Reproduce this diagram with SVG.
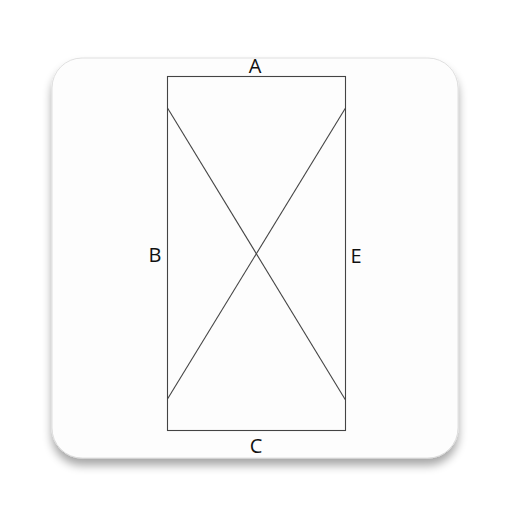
<svg xmlns="http://www.w3.org/2000/svg" width="512" height="512" viewBox="0 0 512 512">
<defs>
<filter id="sh" x="-20%" y="-20%" width="140%" height="150%">
<feGaussianBlur in="SourceAlpha" stdDeviation="5"/>
<feOffset dy="7" result="b"/>
<feComponentTransfer><feFuncA type="linear" slope="0.35"/></feComponentTransfer>
<feMerge><feMergeNode/><feMergeNode in="SourceGraphic"/></feMerge>
</filter>
<style>
.ln{fill:none;stroke:#444;stroke-width:1.1}
.lb{font-family:"Open Sans",sans-serif;font-size:20px;fill:#111;text-anchor:middle}
</style>
</defs>
<rect x="0" y="0" width="512" height="512" fill="#fff"/>
<g id="card">
<rect x="52" y="58" width="406" height="400" rx="30" fill="#fdfdfd" stroke="#d8d8d8" stroke-width="0.8" filter="url(#sh)"/>
</g>
<g id="frame">
<rect class="ln" x="167.5" y="76.5" width="178" height="354"/>
</g>
<g id="connectors">
<line class="ln" x1="167.5" y1="108" x2="345.5" y2="400"/>
<line class="ln" x1="345.5" y1="108" x2="167.5" y2="399"/>
</g>
<g id="labels">
<text class="lb" x="255" y="73">A</text>
<text class="lb" x="155" y="262">B</text>
<text class="lb" x="356" y="263">E</text>
<text class="lb" x="256" y="453">C</text>
</g>
</svg>
